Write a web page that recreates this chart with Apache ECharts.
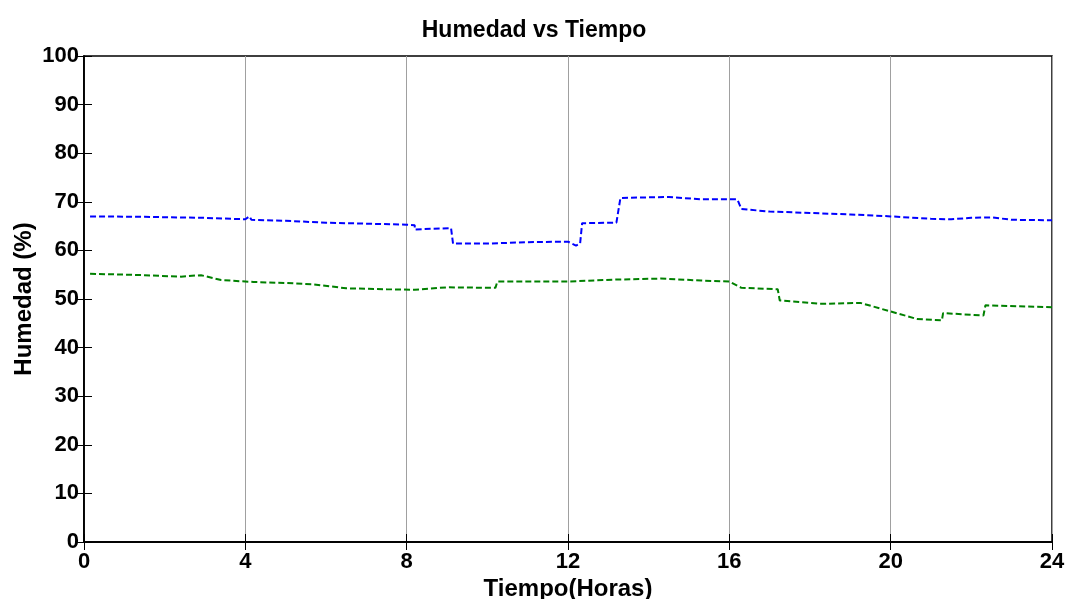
<!DOCTYPE html>
<html>
<head>
<meta charset="utf-8">
<title>Humedad vs Tiempo</title>
<script src="https://cdn.jsdelivr.net/npm/echarts@6/dist/echarts.min.js"></script>
<style>
  html, body { margin: 0; padding: 0; background: #fff; }
  #chart-frame { width: 1068px; height: 599px; }
</style>
</head>
<body>
<div id="chart-frame"></div>
<script>
// datos
var timeBlue = [0.15, 1.5, 3.0, 4.0, 4.1, 4.15, 5.0, 6.0, 7.0, 8.0, 8.2, 8.2, 9.1, 9.15, 10.0, 11.0, 12.0, 12.2, 12.3, 12.35, 13.2, 13.3, 14.5, 15.3, 16.2, 16.3, 17.0, 18.0, 19.0, 20.0, 21.0, 21.5, 22.0, 22.5, 23.0, 24.0];
var humBlue = [67.0, 66.9, 66.7, 66.4, 67.0, 66.3, 66.1, 65.7, 65.5, 65.3, 65.2, 64.3, 64.6, 61.4, 61.4, 61.7, 61.8, 61.0, 61.4, 65.6, 65.7, 70.8, 71.0, 70.5, 70.5, 68.5, 68.0, 67.7, 67.4, 67.0, 66.5, 66.4, 66.7, 66.8, 66.3, 66.2];

var timeGreen = [0.15, 1.5, 2.4, 2.9, 3.4, 4.2, 5.0, 5.7, 6.5, 7.5, 8.2, 9.0, 10.2, 10.25, 12.0, 13.2, 14.3, 15.3, 16.0, 16.3, 17.2, 17.25, 18.25, 19.25, 20.65, 21.27, 21.3, 22.3, 22.35, 24.0];
var humGreen = [55.2, 54.9, 54.6, 54.9, 53.9, 53.5, 53.3, 53.0, 52.2, 52.0, 51.9, 52.4, 52.3, 53.6, 53.6, 54.0, 54.2, 53.8, 53.6, 52.3, 52.0, 49.7, 49.0, 49.2, 45.9, 45.6, 47.1, 46.6, 48.7, 48.3];

var xTicks = [0, 4, 8, 12, 16, 20, 24];
var yTicks = [0, 10, 20, 30, 40, 50, 60, 70, 80, 90, 100];

var pairs = function (xs, ys) {
    var out = [];
    for (var i = 0; i < xs.length; i++) {
        out.push([xs[i], ys[i]]);
    }
    return out;
};

var fontFam = 'Liberation Sans, Arial, sans-serif';
var dom = document.getElementById('chart-frame');
var myChart = echarts.init(dom, null, { renderer: 'canvas' });

var option = {
    animation: false,
    backgroundColor: '#fff',
    title: {
        text: 'Humedad vs Tiempo',
        left: 'center',
        top: 14,
        textStyle: { color: '#000', fontSize: 23, fontWeight: 'bold', fontFamily: fontFam }
    },
    grid: {
        left: 84,
        right: 16,
        top: 56,
        bottom: 57,
        outerBoundsMode: 'none',
        containLabel: false,
        show: true,
        borderColor: '#000',
        borderWidth: 1.5
    },
    xAxis: [
        {
            type: 'value',
            min: xTicks[0],
            max: xTicks[xTicks.length - 1],
            interval: 4,
            name: 'Tiempo(Horas)',
            nameLocation: 'middle',
            nameGap: 35,
            nameMoveOverlap: false,
            nameTextStyle: { color: '#000', fontSize: 24, fontWeight: 'bold', fontFamily: fontFam },
            axisLine: { show: true, lineStyle: { color: '#000', width: 1.5 } },
            axisTick: { show: true, inside: true, length: 8, lineStyle: { color: '#000' } },
            axisLabel: { color: '#000', fontSize: 22, fontWeight: 'bold', fontFamily: fontFam, margin: 9 },
            splitLine: { show: true, lineStyle: { color: '#a0a0a0', width: 1 } }
        },
        {
            type: 'value',
            position: 'top',
            min: xTicks[0],
            max: xTicks[xTicks.length - 1],
            interval: 4,
            axisLine: { show: true, lineStyle: { color: '#000', width: 1.5 } },
            axisTick: { show: true, inside: true, length: 8, lineStyle: { color: '#000' } },
            axisLabel: { show: false },
            splitLine: { show: false }
        }
    ],
    yAxis: [
        {
            type: 'value',
            min: yTicks[0],
            max: yTicks[yTicks.length - 1],
            interval: 10,
            name: 'Humedad (%)',
            nameLocation: 'middle',
            nameGap: 48,
            nameMoveOverlap: false,
            nameTextStyle: { color: '#000', fontSize: 24, fontWeight: 'bold', fontFamily: fontFam },
            axisLine: { show: true, lineStyle: { color: '#000', width: 1.5 } },
            axisTick: { show: true, inside: true, length: 8, lineStyle: { color: '#000' } },
            axisLabel: { color: '#000', fontSize: 22, fontWeight: 'bold', fontFamily: fontFam, margin: 5 },
            splitLine: { show: false }
        },
        {
            type: 'value',
            position: 'right',
            min: yTicks[0],
            max: yTicks[yTicks.length - 1],
            interval: 10,
            axisLine: { show: true, lineStyle: { color: '#000', width: 1.5 } },
            axisTick: { show: true, inside: true, length: 8, lineStyle: { color: '#000' } },
            axisLabel: { show: false },
            splitLine: { show: false }
        }
    ],
    series: [
        {
            name: 'Humedad 1',
            type: 'line',
            data: pairs(timeBlue, humBlue),
            showSymbol: false,
            lineStyle: { color: '#0000ff', width: 2, type: [6, 3] }
        },
        {
            name: 'Humedad 2',
            type: 'line',
            data: pairs(timeGreen, humGreen),
            showSymbol: false,
            lineStyle: { color: '#008000', width: 2, type: [6, 3] }
        }
    ]
};

myChart.setOption(option);
</script>
</body>
</html>
